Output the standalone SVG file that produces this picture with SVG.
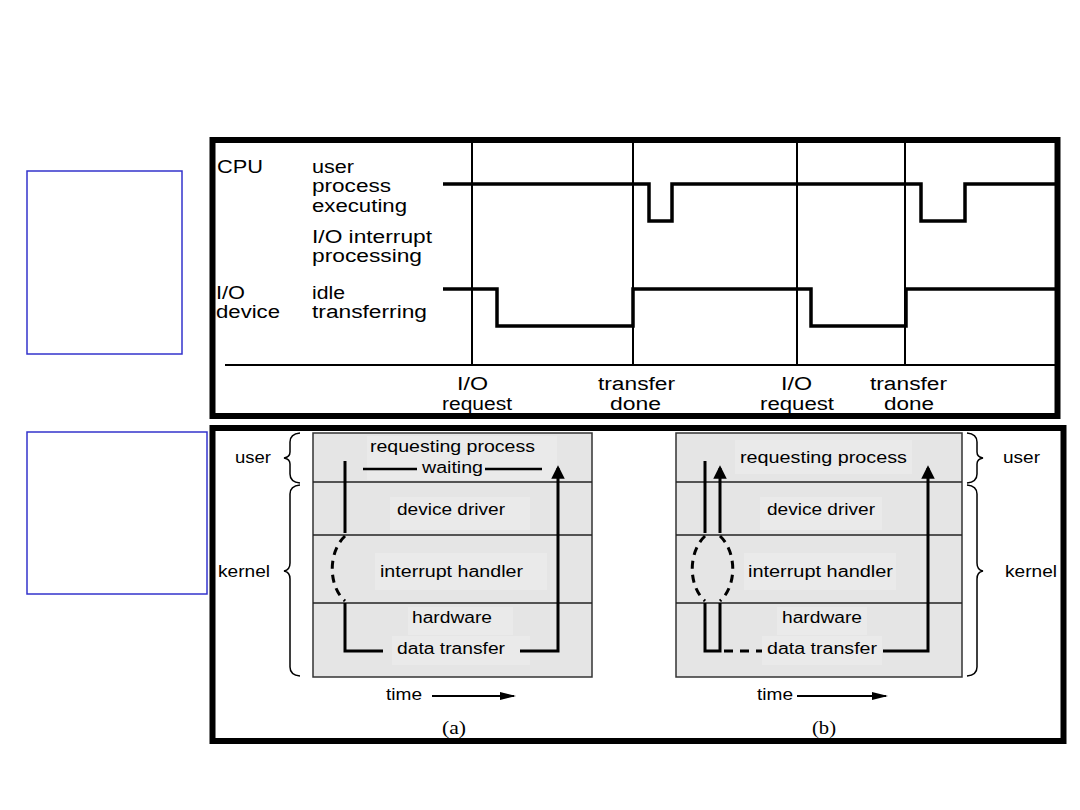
<svg xmlns="http://www.w3.org/2000/svg" width="1080" height="810" viewBox="0 0 1080 810">
<defs>
<style>
text{font-family:"Liberation Sans",Arial,sans-serif;fill:#000}
.t18{font-size:18px}
.t16{font-size:16px}
.ser{font-family:"Liberation Serif","Times New Roman",serif;font-size:19px}
.frame{fill:none;stroke:#000;stroke-width:6}
.blue{fill:none;stroke:#3333cc;stroke-width:1.5}
.thin{fill:none;stroke:#000;stroke-width:2}
.sig{fill:none;stroke:#000;stroke-width:3.5;stroke-linejoin:miter}
.panel{fill:#e5e5e5;stroke:#333;stroke-width:1.5}
.div{stroke:#222;stroke-width:1.5}
.lbg{fill:#eaeaea}
.flow{fill:none;stroke:#000;stroke-width:3}
.dash{fill:none;stroke:#000;stroke-width:3;stroke-dasharray:8 6}
.brace{fill:none;stroke:#000;stroke-width:1.5}
</style>
<marker id="ah" viewBox="0 0 10 10" refX="8" refY="5" markerWidth="4.5" markerHeight="4.5" orient="auto" markerUnits="strokeWidth">
<path d="M0,0 L10,5 L0,10 z" fill="#000"/>
</marker>
<marker id="ah2" viewBox="0 0 16 10" refX="14" refY="5" markerWidth="16" markerHeight="10" orient="auto" markerUnits="userSpaceOnUse">
<path d="M0,1 L16,5 L0,9 z" fill="#000"/>
</marker>
</defs>
<rect width="1080" height="810" fill="#fff"/>

<g id="blue-box-1"><rect class="blue" x="27" y="171" width="155" height="183"/></g>
<g id="blue-box-2"><rect class="blue" x="27" y="432" width="180" height="162"/></g>

<g id="timeline-frame">
<rect class="frame" x="212.5" y="140" width="845" height="276"/>
<line class="thin" x1="225" y1="365" x2="1055" y2="365"/>
<line class="thin" x1="472" y1="143" x2="472" y2="365"/>
<line class="thin" x1="633" y1="143" x2="633" y2="365"/>
<line class="thin" x1="797" y1="143" x2="797" y2="365"/>
<line class="thin" x1="905" y1="143" x2="905" y2="365"/>
</g>

<g id="timeline-labels" class="t18">
<text x="217" y="173" textLength="46" lengthAdjust="spacingAndGlyphs">CPU</text>
<text x="312" y="173" textLength="42" lengthAdjust="spacingAndGlyphs">user</text>
<text x="312" y="192" textLength="79" lengthAdjust="spacingAndGlyphs">process</text>
<text x="312" y="212" textLength="95" lengthAdjust="spacingAndGlyphs">executing</text>
<text x="312" y="243" textLength="120" lengthAdjust="spacingAndGlyphs">I/O interrupt</text>
<text x="312" y="262" textLength="110" lengthAdjust="spacingAndGlyphs">processing</text>
<text x="216" y="299" textLength="29" lengthAdjust="spacingAndGlyphs">I/O</text>
<text x="312" y="299" textLength="33" lengthAdjust="spacingAndGlyphs">idle</text>
<text x="216" y="318" textLength="64" lengthAdjust="spacingAndGlyphs">device</text>
<text x="312" y="318" textLength="115" lengthAdjust="spacingAndGlyphs">transferring</text>
<text x="457" y="390" textLength="31" lengthAdjust="spacingAndGlyphs">I/O</text>
<text x="442" y="410" textLength="70" lengthAdjust="spacingAndGlyphs">request</text>
<text x="598" y="390" textLength="77" lengthAdjust="spacingAndGlyphs">transfer</text>
<text x="610" y="410" textLength="51" lengthAdjust="spacingAndGlyphs">done</text>
<text x="781" y="390" textLength="31" lengthAdjust="spacingAndGlyphs">I/O</text>
<text x="760" y="410" textLength="74" lengthAdjust="spacingAndGlyphs">request</text>
<text x="870" y="390" textLength="77" lengthAdjust="spacingAndGlyphs">transfer</text>
<text x="884" y="410" textLength="50" lengthAdjust="spacingAndGlyphs">done</text>
</g>

<g id="cpu-signal"><path class="sig" d="M443,184 H649 V221 H672 V184 H921 V221 H965 V184 H1055"/></g>
<g id="io-signal"><path class="sig" d="M443,289 H497 V326 H633 V289 H811 V326 H906 V289 H1055"/></g>

<g id="methods-frame"><rect class="frame" x="212.5" y="428" width="851" height="313"/></g>

<g id="panel-a">
<rect class="panel" x="313" y="433" width="279" height="244"/>
<rect class="lbg" x="367" y="436" width="190" height="44"/>
<rect class="lbg" x="390" y="497" width="140" height="33"/>
<rect class="lbg" x="375" y="553" width="172" height="37"/>
<rect class="lbg" x="408" y="607" width="105" height="28"/>
<rect class="lbg" x="392" y="636" width="138" height="29"/>
<line class="div" x1="313" y1="482" x2="592" y2="482"/>
<line class="div" x1="313" y1="535" x2="592" y2="535"/>
<line class="div" x1="313" y1="603" x2="592" y2="603"/>
<g class="t16">
<text x="370" y="452" textLength="165" lengthAdjust="spacingAndGlyphs">requesting process</text>
<text x="422" y="473" textLength="61" lengthAdjust="spacingAndGlyphs">waiting</text>
<text x="397" y="515" textLength="108" lengthAdjust="spacingAndGlyphs">device driver</text>
<text x="380" y="577" textLength="143" lengthAdjust="spacingAndGlyphs">interrupt handler</text>
<text x="412" y="623" textLength="80" lengthAdjust="spacingAndGlyphs">hardware</text>
<text x="397" y="654" textLength="108" lengthAdjust="spacingAndGlyphs">data transfer</text>
<text x="235" y="463" textLength="36" lengthAdjust="spacingAndGlyphs">user</text>
<text x="218" y="577" textLength="52" lengthAdjust="spacingAndGlyphs">kernel</text>
<text x="386" y="700" textLength="36" lengthAdjust="spacingAndGlyphs">time</text>
</g>
<text class="ser" x="442" y="734" textLength="24" lengthAdjust="spacingAndGlyphs">(a)</text>
<path class="brace" d="M300,433 Q290,434 290,442 V452 Q290,457 284,458 Q290,459 290,464 V474 Q290,482 300,483"/>
<path class="brace" d="M300,485 Q290,486 290,494 V563 Q290,570 284,571 Q290,572 290,579 V667 Q290,675 300,676"/>
</g>

<g id="panel-b">
<rect class="panel" x="676" y="433" width="286" height="244"/>
<rect class="lbg" x="735" y="440" width="177" height="34"/>
<rect class="lbg" x="760" y="497" width="122" height="33"/>
<rect class="lbg" x="744" y="553" width="152" height="37"/>
<rect class="lbg" x="777" y="607" width="90" height="28"/>
<rect class="lbg" x="762" y="636" width="120" height="29"/>
<line class="div" x1="676" y1="482" x2="962" y2="482"/>
<line class="div" x1="676" y1="535" x2="962" y2="535"/>
<line class="div" x1="676" y1="603" x2="962" y2="603"/>
<g class="t16">
<text x="740" y="463" textLength="167" lengthAdjust="spacingAndGlyphs">requesting process</text>
<text x="767" y="515" textLength="108" lengthAdjust="spacingAndGlyphs">device driver</text>
<text x="748" y="577" textLength="145" lengthAdjust="spacingAndGlyphs">interrupt handler</text>
<text x="782" y="623" textLength="80" lengthAdjust="spacingAndGlyphs">hardware</text>
<text x="767" y="654" textLength="110" lengthAdjust="spacingAndGlyphs">data transfer</text>
<text x="1003" y="463" textLength="37" lengthAdjust="spacingAndGlyphs">user</text>
<text x="1005" y="577" textLength="52" lengthAdjust="spacingAndGlyphs">kernel</text>
<text x="757" y="700" textLength="36" lengthAdjust="spacingAndGlyphs">time</text>
</g>
<text class="ser" x="812" y="734" textLength="24" lengthAdjust="spacingAndGlyphs">(b)</text>
<path class="brace" d="M967,433 Q977,434 977,442 V452 Q977,457 983,458 Q977,459 977,464 V474 Q977,482 967,483"/>
<path class="brace" d="M967,485 Q977,486 977,494 V563 Q977,570 983,571 Q977,572 977,579 V667 Q977,675 967,676"/>
</g>

<g id="connectors">
<line x1="363" y1="469" x2="417" y2="469" stroke="#000" stroke-width="2.5"/>
<line x1="485" y1="469" x2="542" y2="469" stroke="#000" stroke-width="2.5"/>
<path class="flow" d="M345,461 V533"/>
<path class="dash" d="M345,536 C 328,552 328,586 345,601"/>
<path class="flow" d="M345,603 V651 H383"/>
<path class="flow" d="M520,651 H558 V468" marker-end="url(#ah)"/>
<path class="thin" d="M432,696 H514" marker-end="url(#ah2)"/>

<path class="flow" d="M705,461 V533"/>
<path class="flow" d="M720,533 V468" marker-end="url(#ah)"/>
<path class="dash" d="M705,536 C 688,552 688,586 705,601"/>
<path class="dash" d="M720,536 C 737,552 737,586 720,601"/>
<path class="flow" d="M705,603 V651 H720 V603"/>
<path class="dash" d="M724,651 H762" style="stroke-dasharray:9 7"/>
<path class="flow" d="M883,651 H928 V468" marker-end="url(#ah)"/>
<path class="thin" d="M797,696 H886" marker-end="url(#ah2)"/>
</g>
</svg>
